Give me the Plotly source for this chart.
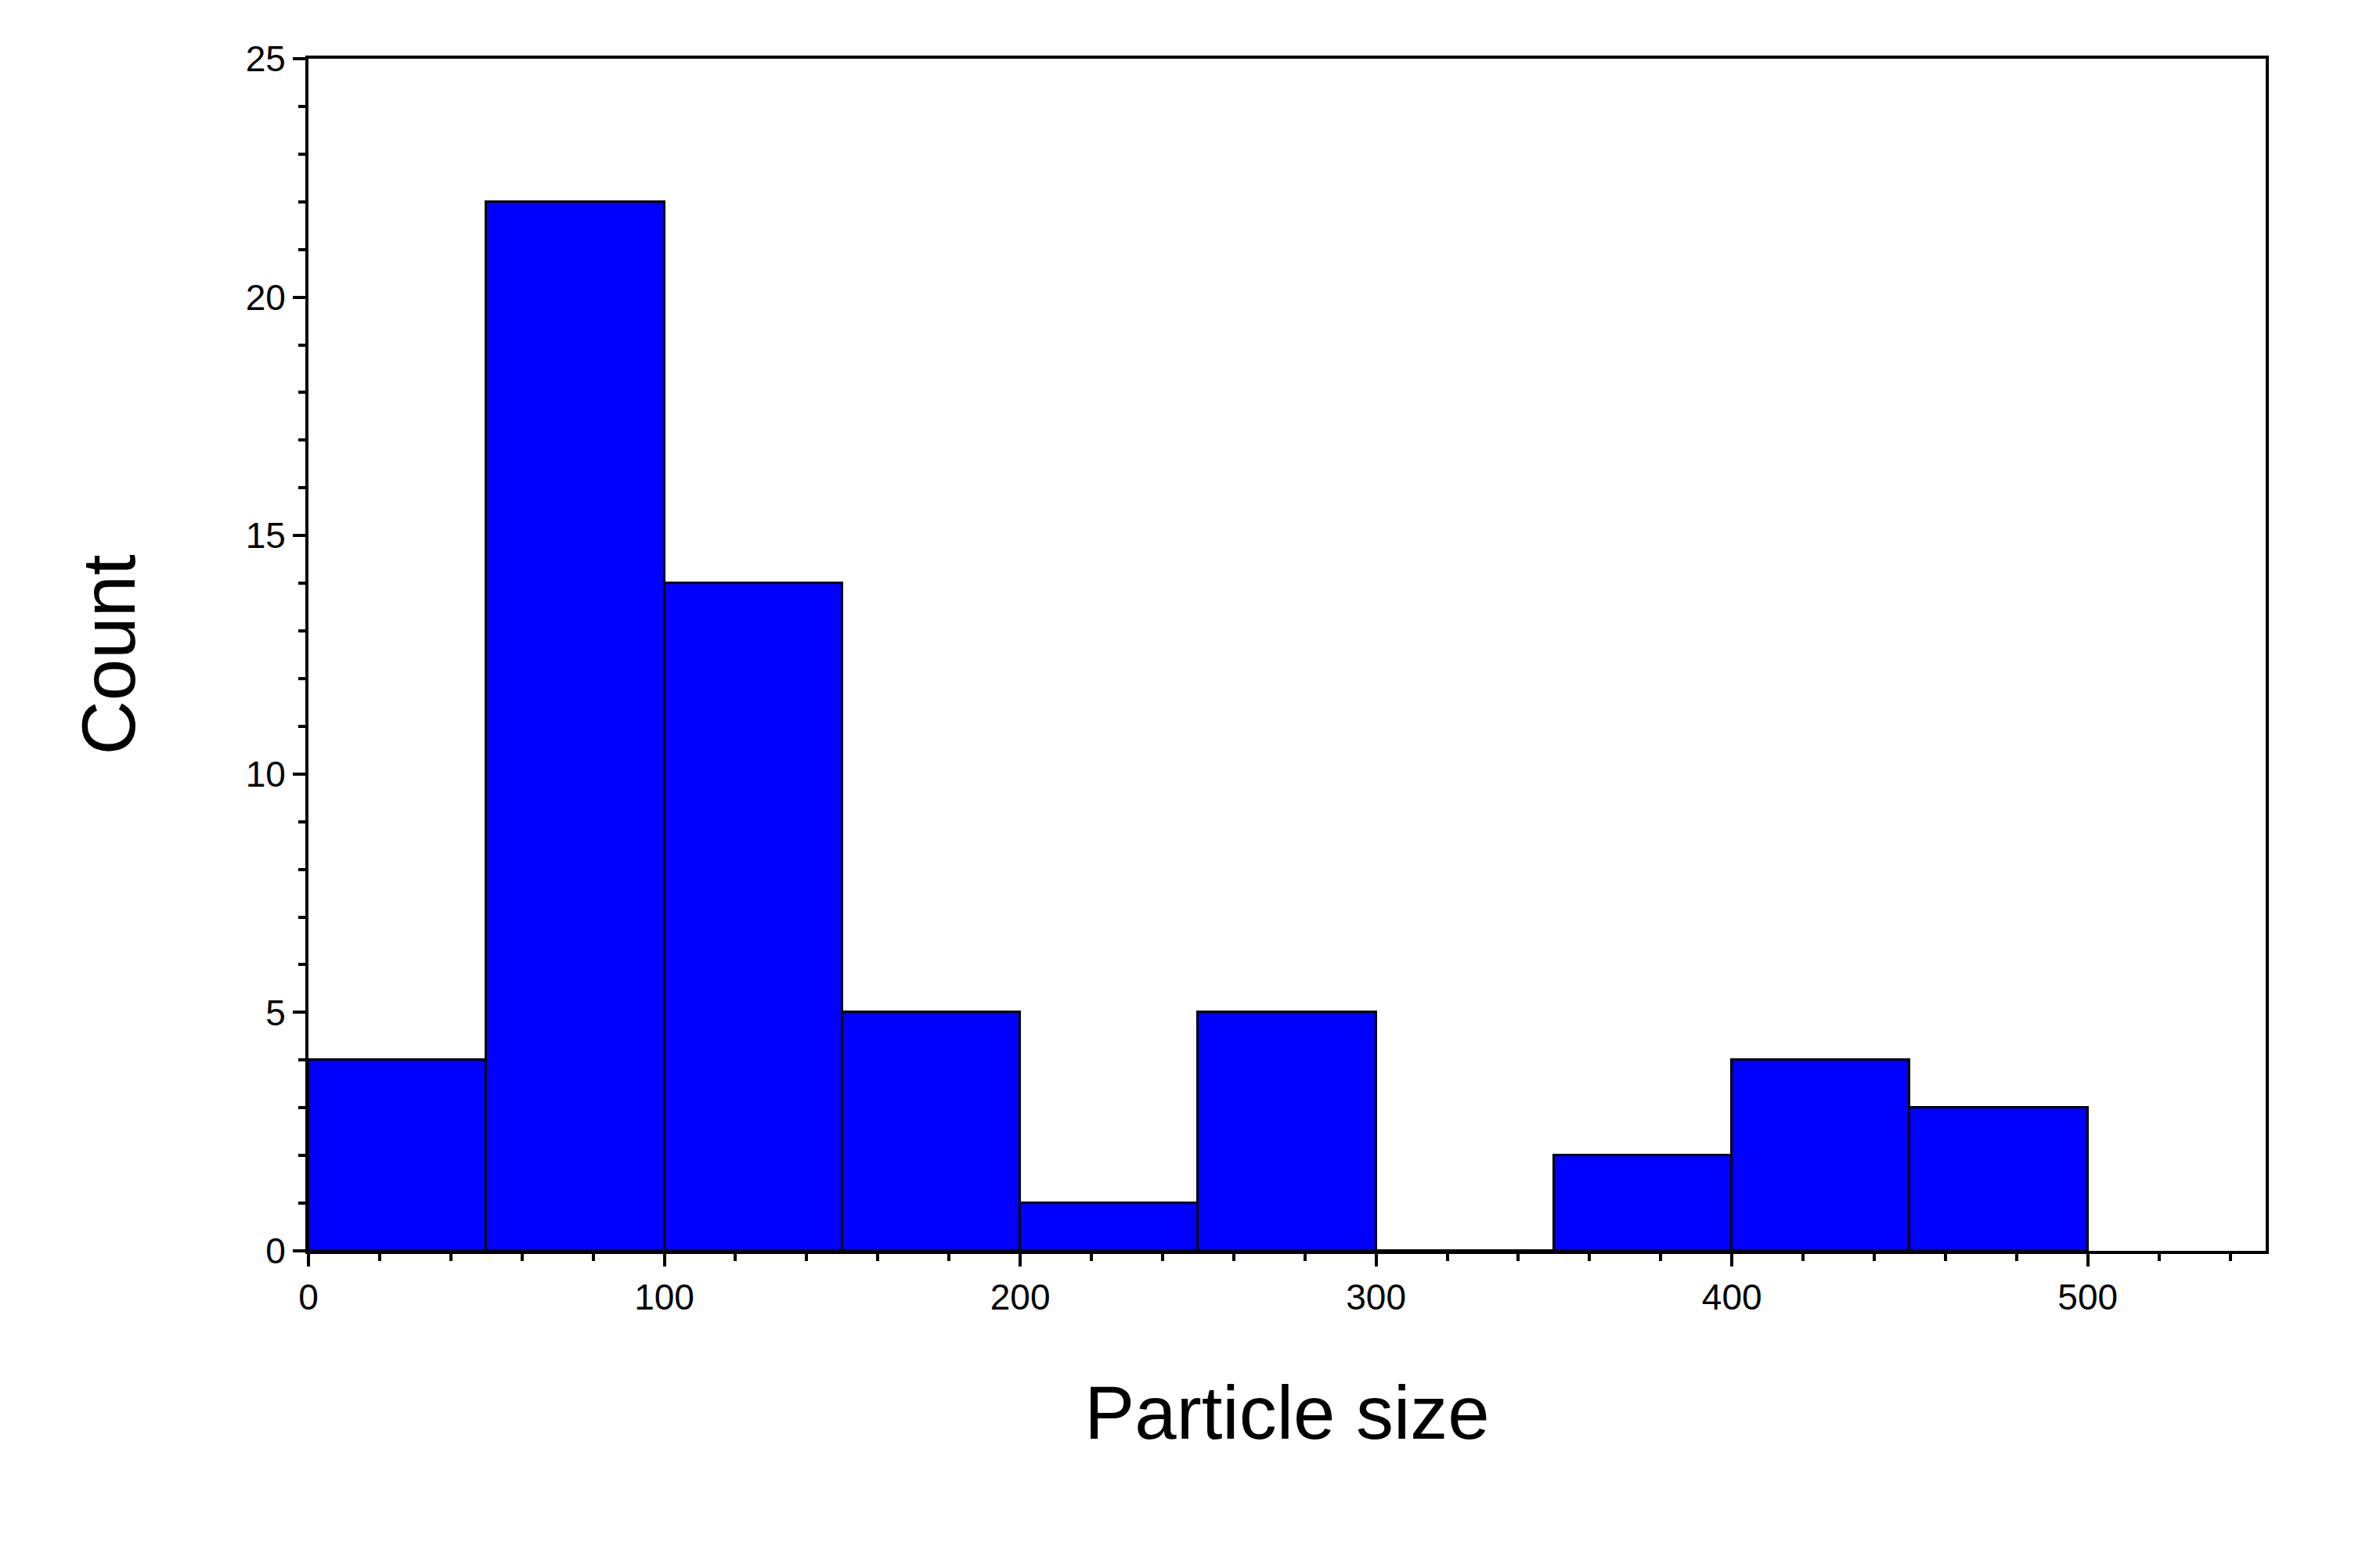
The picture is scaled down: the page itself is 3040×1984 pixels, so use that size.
import plotly.graph_objects as go

bin_starts = [0, 50, 100, 150, 200, 250, 300, 350, 400, 450]
counts = [4, 22, 14, 5, 1, 5, 0, 2, 4, 3]
bin_width = 50

fig = go.Figure(go.Bar(
    x=[b + bin_width / 2 for b in bin_starts], y=counts, width=bin_width,
    marker=dict(color="#0000ff", line=dict(color="black", width=3)),
))
axis_common = dict(showline=True, linecolor="black", linewidth=4, mirror=True,
                   ticks="outside", tickwidth=4, tickcolor="black", ticklen=16,
                   showgrid=False, zeroline=False,
                   tickfont=dict(family="Liberation Sans", size=46, color="black"))
fig.update_xaxes(range=[0, 550], tickvals=[0, 100, 200, 300, 400, 500],
                 minor=dict(dtick=20, ticks="outside", ticklen=9, tickwidth=4, tickcolor="black"),
                 title=dict(text="Particle size", font=dict(family="Liberation Sans", size=96, color="black"), standoff=90),
                 **axis_common)
fig.update_yaxes(range=[0, 25], tickvals=[0, 5, 10, 15, 20, 25],
                 minor=dict(dtick=1, ticks="outside", ticklen=9, tickwidth=4, tickcolor="black"),
                 title=dict(text="Count", font=dict(family="Liberation Sans", size=96, color="black"), standoff=110),
                 **axis_common)
fig.update_layout(width=3040, height=1984, plot_bgcolor="white", paper_bgcolor="white",
                  margin=dict(l=386, r=154, t=67, b=394), showlegend=False, bargap=0)
fig.write_html("out.html")
